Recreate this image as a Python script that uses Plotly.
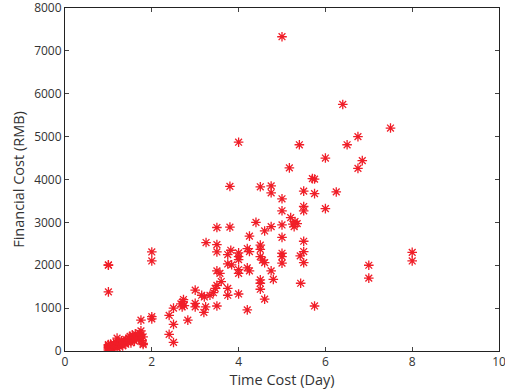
import plotly.graph_objects as go

# Time cost (days) and financial cost (RMB)
time_main = [
    5.0, 6.4, 7.5, 4.0, 5.4, 6.75, 6.5, 6.0, 6.85, 6.75, 5.17, 5.7, 5.75,
    3.8, 4.5, 4.75, 4.75, 5.5, 5.75, 6.25, 5.0, 5.0, 5.5, 5.5, 6.0, 5.2,
    4.4, 3.5, 3.8, 4.75, 5.0, 5.25, 5.3, 5.35, 5.28, 4.6, 4.25, 5.0, 5.5,
    5.5, 5.5, 5.42, 3.25, 3.5, 3.5, 3.75, 3.82, 4.0, 4.0, 4.0, 4.2, 4.25,
    4.5, 4.5, 4.5, 4.55, 4.6, 5.0, 5.0, 5.0, 3.5, 3.57, 3.75, 3.84, 4.0,
    4.0, 4.2, 4.25, 4.5, 4.5, 4.5, 4.75, 4.8, 3.6, 3.5, 3.46, 3.75, 3.75,
    3.0, 3.15, 3.21, 3.24, 3.2, 3.34, 3.42, 3.5, 4.0, 4.2, 4.6, 5.43, 5.75,
    2.67, 2.72, 2.75, 2.7, 2.73, 3.0, 3.0, 2.83, 2.5, 2.4, 2.5, 2.4, 2.5,
    2.0, 2.0, 1.0, 1.0, 1.0, 1.75, 2.0, 2.0, 7.0, 7.0, 8.0, 8.0,
]
cost_main = [
    7330, 5750, 5200, 4870, 4810, 5000, 4810, 4500, 4440, 4260, 4270, 4020, 4010,
    3840, 3830, 3850, 3690, 3730, 3670, 3710, 3550, 3270, 3370, 3270, 3320, 3110,
    3000, 2880, 2890, 2900, 2940, 2960, 3020, 2970, 2900, 2800, 2680, 2650, 2560,
    2320, 2060, 2220, 2530, 2480, 2310, 2250, 2350, 2290, 2200, 2130, 2390, 2320,
    2470, 2370, 2200, 2120, 2060, 2280, 2200, 2050, 1870, 1810, 2030, 2010, 1900,
    1810, 1940, 1870, 1660, 1580, 1440, 1870, 1670, 1620, 1530, 1460, 1460, 1300,
    1420, 1300, 1260, 1030, 900, 1300, 1360, 1050, 1330, 960, 1210, 1580, 1050,
    1100, 1150, 1060, 1030, 1200, 1110, 1030, 720, 1000, 830, 620, 390, 200,
    2310, 2100, 2000, 2010, 1380, 720, 800, 750, 2000, 1700, 2300, 2100,
]
time_cluster = [
    1.0, 1.0, 1.0, 1.0, 1.0, 1.0, 1.02, 1.03, 1.05, 1.05, 1.05, 1.08, 1.1,
    1.1, 1.12, 1.15, 1.15, 1.18, 1.2, 1.2, 1.2, 1.22, 1.25, 1.25, 1.28, 1.3,
    1.3, 1.33, 1.35, 1.38, 1.4, 1.4, 1.45, 1.48, 1.5, 1.5, 1.52, 1.55, 1.55,
    1.6, 1.6, 1.62, 1.65, 1.68, 1.7, 1.72, 1.75, 1.75, 1.77, 1.8, 1.8, 1.8,
]
cost_cluster = [
    20, 50, 80, 100, 130, 150, 60, 110, 40, 90, 160, 70, 120,
    30, 180, 100, 150, 200, 80, 130, 300, 170, 110, 210, 150, 180,
    240, 120, 200, 230, 160, 270, 200, 300, 250, 340, 190, 290, 370,
    230, 320, 400, 280, 350, 300, 420, 380, 470, 250, 330, 180, 150,
]

x_ticks = [0, 2, 4, 6, 8, 10]
y_ticks = [0, 1000, 2000, 3000, 4000, 5000, 6000, 7000, 8000]

fig = go.Figure()
fig.add_trace(go.Scatter(
    x=time_main + time_cluster,
    y=cost_main + cost_cluster,
    mode="markers",
    marker=dict(symbol="asterisk-open", size=8, color="rgb(240,30,40)",
                line=dict(color="rgb(240,30,40)", width=1.3)),
    showlegend=False,
))

axis_common = dict(
    showgrid=False, zeroline=False, showline=True, linecolor="#222",
    linewidth=1, mirror="ticks", ticks="inside", ticklen=4, tickcolor="#444",
    ticklabeloverflow="allow", automargin=False,
    tickfont=dict(size=12, color="#333", family="Open Sans"),
)
fig.update_xaxes(range=[0, 10], tickvals=x_ticks, ticktext=[str(v) for v in x_ticks],
                 title=dict(text="Time Cost (Day)", standoff=2,
                            font=dict(size=14.5, color="#333", family="Open Sans")),
                 **axis_common)
fig.update_yaxes(range=[0, 8000], tickvals=y_ticks, ticktext=[str(v) for v in y_ticks],
                 title=dict(text="Financial Cost (RMB)", standoff=6,
                            font=dict(size=14.5, color="#333", family="Open Sans")),
                 **axis_common)
fig.update_layout(
    width=505, height=390,
    margin=dict(l=65, r=6, t=8, b=39),
    paper_bgcolor="white", plot_bgcolor="white",
)
fig.write_html("out.html")
